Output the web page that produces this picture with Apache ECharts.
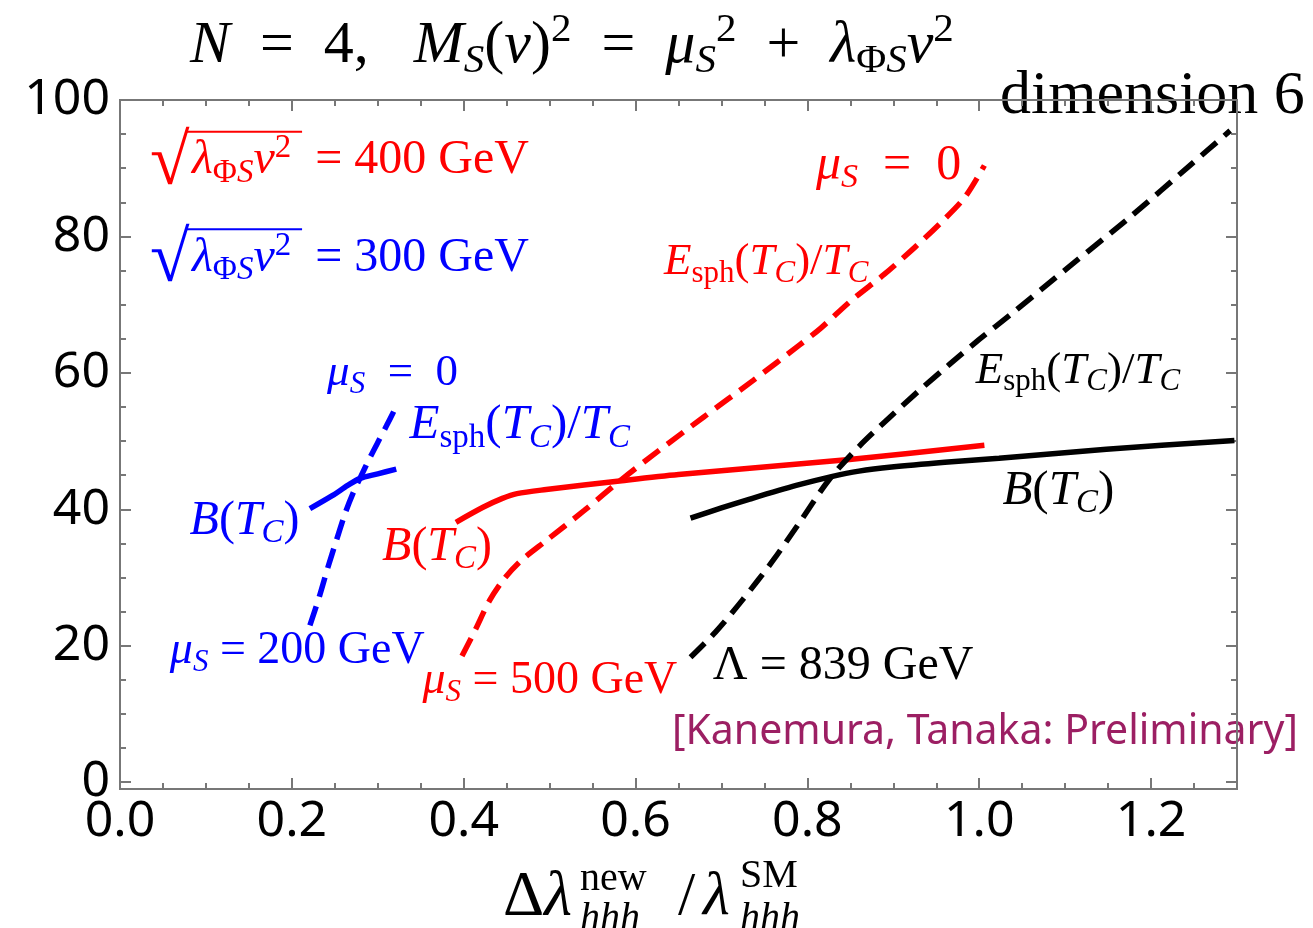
<!DOCTYPE html>
<html>
<head>
    <meta charset="utf-8">
    <title>N=4 dimension 6</title>
    <script src="https://cdn.jsdelivr.net/npm/echarts@6.0.0/dist/echarts.min.js"></script>
    <style>
        html, body { margin: 0; padding: 0; background: #fff; }
        #charts { width: 1313px; height: 928px; }
    </style>
</head>
<body>
<div id="charts"></div>
<script>
    // tick labels
    var xTicks = [0, 0.2, 0.4, 0.6, 0.8, 1.0, 1.2];
    var yTicks = [0, 20, 40, 60, 80, 100];

    // curves, [x, y]
    var blueB = [[0.221, 40.1], [0.247, 42.0], [0.265, 43.5], [0.279, 44.5], [0.300, 45.2], [0.3215, 45.9]];
    var blueE = [[0.221, 23.0], [0.232, 27.2], [0.242, 31.5], [0.252, 35.5], [0.262, 39.4], [0.271, 42.3],
        [0.281, 45.0], [0.291, 47.6], [0.300, 49.8], [0.310, 52.2], [0.320, 54.7]];
    var redB = [[0.391, 38.1], [0.4225, 40.3], [0.445, 41.6], [0.462, 42.3], [0.496, 42.9], [0.584, 44.2],
        [0.650, 45.1], [0.849, 47.3], [1.006, 49.4]];
    var redE = [[0.398, 18.5], [0.413, 22.2], [0.430, 26.6], [0.447, 29.8], [0.467, 32.5], [0.496, 35.4],
        [0.540, 39.8], [0.584, 44.4], [0.627, 48.6], [0.679, 53.5], [0.737, 58.9], [0.791, 64.1],
        [0.816, 66.6], [0.851, 70.6], [0.890, 74.5], [0.925, 78.4], [0.956, 82.1], [0.983, 85.7], [1.006, 90.4]];
    var blackB = [[0.664, 38.7], [0.700, 40.2], [0.733, 41.5], [0.787, 43.5], [0.828, 44.8], [0.860, 45.6],
        [0.898, 46.2], [0.960, 46.9], [1.023, 47.5], [1.148, 48.8], [1.297, 50.1]];
    var blackE = [[0.664, 18.3], [0.693, 22.0], [0.725, 26.8], [0.760, 32.5], [0.790, 37.9], [0.825, 44.3],
        [0.860, 49.2], [0.895, 53.4], [0.930, 57.4], [0.965, 61.2], [1.000, 64.9], [1.037, 68.6],
        [1.104, 75.5], [1.177, 83.0], [1.246, 90.5], [1.292, 95.5]];

    var RED = '#ff0000', BLUE = '#0000ff', BLACK = '#000000', GREY = '#777777';
    var SERIF = '"Liberation Serif", "DejaVu Serif", serif';

    // minor ticks every 0.05 / 5
    var xMinor = [], yMinor = [];
    for (var k = 1; k <= 25; k++) { if (k % 4) xMinor.push(Math.round(k * 5) / 100); }
    for (var k = 1; k <= 19; k++) { if (k % 4) yMinor.push(k * 5); }

    var myChart = echarts.init(document.getElementById('charts'));

    function xAxisOf(pos, ticks, len, withLabel) {
        return {
            type: 'value', position: pos, min: 0, max: 1.3,
            axisLine: { show: true, onZero: false, lineStyle: { color: GREY, width: 2 } },
            axisTick: { show: true, inside: true, length: len, customValues: ticks, lineStyle: { color: GREY, width: 2 } },
            axisLabel: {
                show: withLabel, customValues: xTicks, margin: 8,
                fontFamily: 'Noto Sans', fontSize: 50, color: '#000',
                formatter: function (v) { return v.toFixed(1); }
            },
            splitLine: { show: false }
        };
    }
    function yAxisOf(pos, ticks, len, withLabel) {
        return {
            type: 'value', position: pos, min: -1, max: 100,
            axisLine: { show: true, onZero: false, lineStyle: { color: GREY, width: 2 } },
            axisTick: { show: true, inside: true, length: len, customValues: ticks, lineStyle: { color: GREY, width: 2 } },
            axisLabel: {
                show: withLabel, customValues: yTicks, margin: 10,
                fontFamily: 'Noto Sans', fontSize: 50, color: '#000'
            },
            splitLine: { show: false }
        };
    }

    function line(name, data, color, dashed) {
        return {
            name: name, type: 'line', data: data, xAxisIndex: 0, yAxisIndex: 0,
            showSymbol: false, smooth: 0.3, animation: false,
            lineStyle: { color: color, width: 5.5, type: dashed ? [20, 10] : 'solid', cap: 'butt' }
        };
    }

    var option = {
        animation: false,
        grid: { left: 120, top: 100, right: 76, bottom: 139 },
        xAxis: [
            xAxisOf('bottom', xTicks, 11, true),
            xAxisOf('bottom', xMinor, 6, false),
            xAxisOf('top', xTicks, 11, false),
            xAxisOf('top', xMinor, 6, false)
        ],
        yAxis: [
            yAxisOf('left', yTicks, 11, true),
            yAxisOf('left', yMinor, 6, false),
            yAxisOf('right', yTicks, 11, false),
            yAxisOf('right', yMinor, 6, false)
        ],
        series: [
            line('blueB', blueB, BLUE, false),
            line('blueE', blueE, BLUE, true),
            line('redB', redB, RED, false),
            line('redE', redE, RED, true),
            line('blackB', blackB, BLACK, false),
            line('blackE', blackE, BLACK, true)
        ]
    };
    myChart.setOption(option);

    // math-ish rich text: i italic, r roman, s/sr subscript, p superscript
    function richOf(size, color) {
        var s = Math.round(size * 0.68);
        return {
            i: { fontFamily: SERIF, fontStyle: 'italic', fontSize: size, lineHeight: size * 1.2, fill: color },
            r: { fontFamily: SERIF, fontSize: size, lineHeight: size * 1.2, fill: color },
            s: { fontFamily: SERIF, fontStyle: 'italic', fontSize: s, lineHeight: size * 0.6, verticalAlign: 'bottom', fill: color },
            sr: { fontFamily: SERIF, fontSize: s, lineHeight: size * 0.6, verticalAlign: 'bottom', fill: color },
            p: { fontFamily: SERIF, fontSize: s, lineHeight: size * 0.6, verticalAlign: 'top', fill: color }
        };
    }
    function mathText(x, y, str, size, color) {
        return {
            type: 'text', x: x, y: y, silent: true,
            style: { text: str, rich: richOf(size, color), fill: color, align: 'left', verticalAlign: 'middle' }
        };
    }
    function sqrtLabel(x, y, rest, color) {
        return {
            type: 'group', x: x, y: y, silent: true,
            children: [
                { type: 'text', x: 0, y: 4, style: { text: '\u221A', fill: color, font: '72px ' + SERIF, align: 'left', verticalAlign: 'middle' } },
                { type: 'line', shape: { x1: 36, y1: -29, x2: 152, y2: -29 }, style: { stroke: color, lineWidth: 2 } },
                mathText(42, 0, '{i|λ}{sr|Φ}{s|S}{i|v}{p|2}' + rest, 48, color)
            ]
        };
    }

    // annotations anchored in data coordinates (left edge, vertical middle)
    var ESPH = '{i|E}{sr|sph}{r|(}{i|T}{s|C}{r|)/}{i|T}{s|C}';
    var BTC = '{i|B}{r|(}{i|T}{s|C}{r|)}';
    var notes = [
        { at: [0.810, 90.4], size: 50, color: RED, text: '{i|μ}{s|S}{r|\u2002=\u20020}' },
        { at: [0.633, 76.2], size: 45, color: RED, text: ESPH },
        { at: [0.996, 60.3], size: 45, color: BLACK, text: ESPH },
        { at: [0.241, 60.0], size: 45, color: BLUE, text: '{i|μ}{s|S}{r|\u2002=\u20020}' },
        { at: [0.337, 52.3], size: 49, color: BLUE, text: ESPH },
        { at: [0.081, 38.3], size: 48, color: BLUE, text: BTC },
        { at: [0.305, 34.4], size: 48, color: RED, text: BTC },
        { at: [1.027, 42.7], size: 49, color: BLACK, text: BTC },
        { at: [0.058, 19.3], size: 46, color: BLUE, text: '{i|μ}{s|S}{r| = 200 GeV}' },
        { at: [0.352, 14.9], size: 46, color: RED, text: '{i|μ}{s|S}{r| = 500 GeV}' },
        { at: [0.690, 16.9], size: 48, color: BLACK, text: '{r|Λ = 839 GeV}' }
    ];
    var sqrtNotes = [
        { at: [0.035, 91.1], color: RED, rest: '{r|\u2002= 400 GeV}' },
        { at: [0.035, 76.8], color: BLUE, rest: '{r|\u2002= 300 GeV}' }
    ];

    var graphics = [];
    notes.forEach(function (n) {
        var p = myChart.convertToPixel({ gridIndex: 0 }, n.at);
        graphics.push(mathText(p[0], p[1], n.text, n.size, n.color));
    });
    sqrtNotes.forEach(function (n) {
        var p = myChart.convertToPixel({ gridIndex: 0 }, n.at);
        graphics.push(sqrtLabel(p[0], p[1], n.rest, n.color));
    });

    // title, side note, axis name
    graphics.push(mathText(190, 46,
        '{i|N}{r|\u2002=\u20024,   }{i|M}{s|S}{r|(}{i|v}{r|)}{p|2}{r|\u2002=\u2002}{i|μ}{s|S}{p|2}{r|\u2002+\u2002}{i|λ}{sr|Φ}{s|S}{i|v}{p|2}', 60, BLACK));
    graphics.push(mathText(1000, 97, '{r|dimension 6}', 62, BLACK));
    graphics.push({
        type: 'text', x: 672, y: 732, silent: true,
        style: {
            text: '[Kanemura, Tanaka: Preliminary]', fill: '#9c1f63', font: '41px "Noto Sans"',
            align: 'left', verticalAlign: 'middle', backgroundColor: '#fff', padding: [2, 0, 2, 0]
        }
    });
    graphics.push(mathText(503, 898, '{r|Δ}{i|λ}', 64, BLACK));
    graphics.push(mathText(580, 879, '{r|new}', 40, BLACK));
    graphics.push(mathText(580, 919, '{i|hhh}', 40, BLACK));
    graphics.push(mathText(678, 898, '{r|/}', 62, BLACK));
    graphics.push(mathText(703, 898, '{i|λ}', 62, BLACK));
    graphics.push(mathText(740, 876, '{r|SM}', 40, BLACK));
    graphics.push(mathText(740, 919, '{i|hhh}', 40, BLACK));

    myChart.setOption({ graphic: graphics });
</script>
</body>
</html>
